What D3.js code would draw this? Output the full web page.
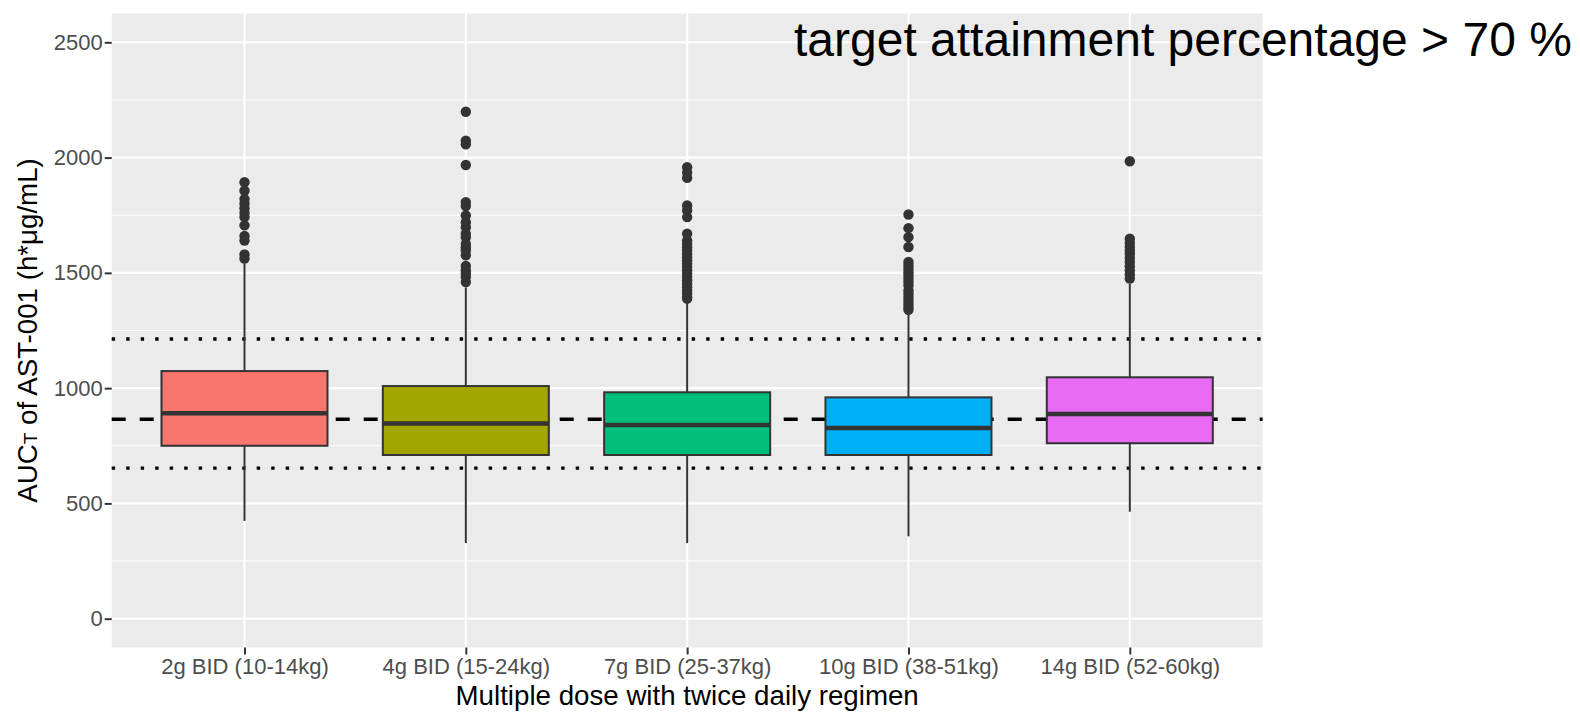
<!DOCTYPE html>
<html>
<head>
<meta charset="utf-8">
<script src="https://cdn.jsdelivr.net/npm/d3@7"></script>
<style>
  body { margin: 0; background: #fff; }
  svg { display: block; font-family: "Liberation Sans", Arial, sans-serif; }
</style>
</head>
<body>
<svg width="1580" height="713"></svg>
<script>
var categories = ["2g BID (10-14kg)", "4g BID (15-24kg)", "7g BID (25-37kg)", "10g BID (38-51kg)", "14g BID (52-60kg)"];
var q1 =       [750, 710, 710, 710, 761];
var medians =  [891, 847, 840, 827, 888];
var q3 =       [1074, 1009, 982, 960, 1047];
var lowWhisk = [424, 328, 328, 357, 464];
var highWhisk = [1541, 1437, 1372, 1322, 1452];
var outliers = [
    [1893, 1856, 1820, 1800, 1780, 1760, 1742, 1706, 1660, 1640, 1580, 1562],
    [2199, 2073, 2058, 1968, 1807, 1790, 1749, 1720, 1698, 1670, 1655, 1626, 1610, 1597, 1576, 1530, 1511, 1497, 1482, 1460],
    [1958, 1935, 1912, 1792, 1771, 1742, 1670, 1640, 1626, 1611, 1597, 1582, 1568, 1554, 1540, 1525, 1511, 1496, 1482, 1468, 1453, 1438, 1424, 1410, 1395, 1388],
    [1753, 1694, 1655, 1612, 1547, 1532, 1518, 1503, 1489, 1475, 1460, 1445, 1424, 1410, 1395, 1380, 1366, 1352, 1340],
    [1984, 1648, 1630, 1612, 1597, 1583, 1565, 1547, 1529, 1511, 1493, 1475]
];
var targetLine = 865;
var boundLines = [653, 1213];
var yTicks = [0, 500, 1000, 1500, 2000, 2500];
var yMinor = [250, 750, 1250, 1750, 2250];
var fills = ["#F8766D", "#A3A500", "#00BF7D", "#00B0F6", "#E76BF3"];

var svg = d3.select("svg");

// panel box (matches the ggplot panel)
// note: "top" is taken by window.top, so use pTop etc.
var pLeft = 111.7, pRight = 1262.6, pTop = 13.5, pBottom = 647.5;

var x = d3.scalePoint().domain(categories).range([pLeft, pRight]).padding(0.6);
var y = d3.scaleLinear().domain([-125, 2625]).range([pBottom, pTop]);

svg.append("rect")
    .attr("x", pLeft).attr("y", pTop)
    .attr("width", pRight - pLeft).attr("height", pBottom - pTop)
    .attr("fill", "#EBEBEB");

var grid = svg.append("g");
grid.selectAll(".minor").data(yMinor).enter().append("line")
    .attr("x1", pLeft).attr("x2", pRight)
    .attr("y1", function(d) { return y(d); }).attr("y2", function(d) { return y(d); })
    .attr("stroke", "#fff").attr("stroke-width", 1.1);
grid.selectAll(".majory").data(yTicks).enter().append("line")
    .attr("x1", pLeft).attr("x2", pRight)
    .attr("y1", function(d) { return y(d); }).attr("y2", function(d) { return y(d); })
    .attr("stroke", "#fff").attr("stroke-width", 2.1);
grid.selectAll(".majorx").data(categories).enter().append("line")
    .attr("x1", function(d) { return x(d); }).attr("x2", function(d) { return x(d); })
    .attr("y1", pTop).attr("y2", pBottom)
    .attr("stroke", "#fff").attr("stroke-width", 2.1);

// reference lines go under the boxes
svg.append("line")
    .attr("x1", pLeft).attr("x2", pRight)
    .attr("y1", y(targetLine)).attr("y2", y(targetLine))
    .attr("stroke", "#000").attr("stroke-width", 3.4)
    .attr("stroke-dasharray", "14,14");
svg.selectAll(".bound").data(boundLines).enter().append("line")
    .attr("x1", pLeft).attr("x2", pRight)
    .attr("y1", function(d) { return y(d); }).attr("y2", function(d) { return y(d); })
    .attr("stroke", "#000").attr("stroke-width", 3.4)
    .attr("stroke-dasharray", "3.4,11.1");

var bw = x.step() * 0.75;

categories.forEach(function(c, i) {
    var g = svg.append("g");
    var cx = x(c);
    g.append("line")
        .attr("x1", cx).attr("x2", cx)
        .attr("y1", y(q3[i])).attr("y2", y(highWhisk[i]))
        .attr("stroke", "#333").attr("stroke-width", 2);
    g.append("line")
        .attr("x1", cx).attr("x2", cx)
        .attr("y1", y(q1[i])).attr("y2", y(lowWhisk[i]))
        .attr("stroke", "#333").attr("stroke-width", 2);
    g.append("rect")
        .attr("x", cx - bw / 2).attr("y", y(q3[i]))
        .attr("width", bw).attr("height", y(q1[i]) - y(q3[i]))
        .attr("fill", fills[i]).attr("stroke", "#333").attr("stroke-width", 2);
    g.append("line")
        .attr("x1", cx - bw / 2).attr("x2", cx + bw / 2)
        .attr("y1", y(medians[i])).attr("y2", y(medians[i]))
        .attr("stroke", "#333").attr("stroke-width", 4.5);
    g.selectAll("circle").data(outliers[i]).enter().append("circle")
        .attr("cx", cx).attr("cy", function(d) { return y(d); })
        .attr("r", 5.2).attr("fill", "#333");
});

// axes
var yAxis = svg.append("g")
    .attr("transform", "translate(" + pLeft + ",0)")
    .call(d3.axisLeft(y).tickValues(yTicks).tickFormat(d3.format("d")).tickSize(7).tickPadding(2));
var xAxis = svg.append("g")
    .attr("transform", "translate(0," + pBottom + ")")
    .call(d3.axisBottom(x).tickSize(7).tickPadding(4));
[yAxis, xAxis].forEach(function(a) {
    a.select(".domain").remove();
    a.selectAll(".tick line").attr("stroke", "#333").attr("stroke-width", 2);
    a.selectAll(".tick text").attr("fill", "#4D4D4D")
        .style("font-size", "22px").style("font-family", "Liberation Sans, Arial, sans-serif");
});

svg.append("text")
    .attr("x", (pLeft + pRight) / 2).attr("y", 705)
    .attr("text-anchor", "middle")
    .style("font-size", "27.7px")
    .text("Multiple dose with twice daily regimen");

var yt = svg.append("text")
    .attr("transform", "translate(37," + (pTop + pBottom) / 2 + ") rotate(-90)")
    .attr("text-anchor", "middle")
    .style("font-size", "27.7px");
yt.append("tspan").text("AUC");
yt.append("tspan").style("font-size", "19px").text("T");
yt.append("tspan").text(" of AST-001 (h*\u03BCg/mL)");

svg.append("text")
    .attr("x", 794).attr("y", 56)
    .style("font-size", "48px")
    .text("target attainment percentage > 70 %");
</script>
</body>
</html>
